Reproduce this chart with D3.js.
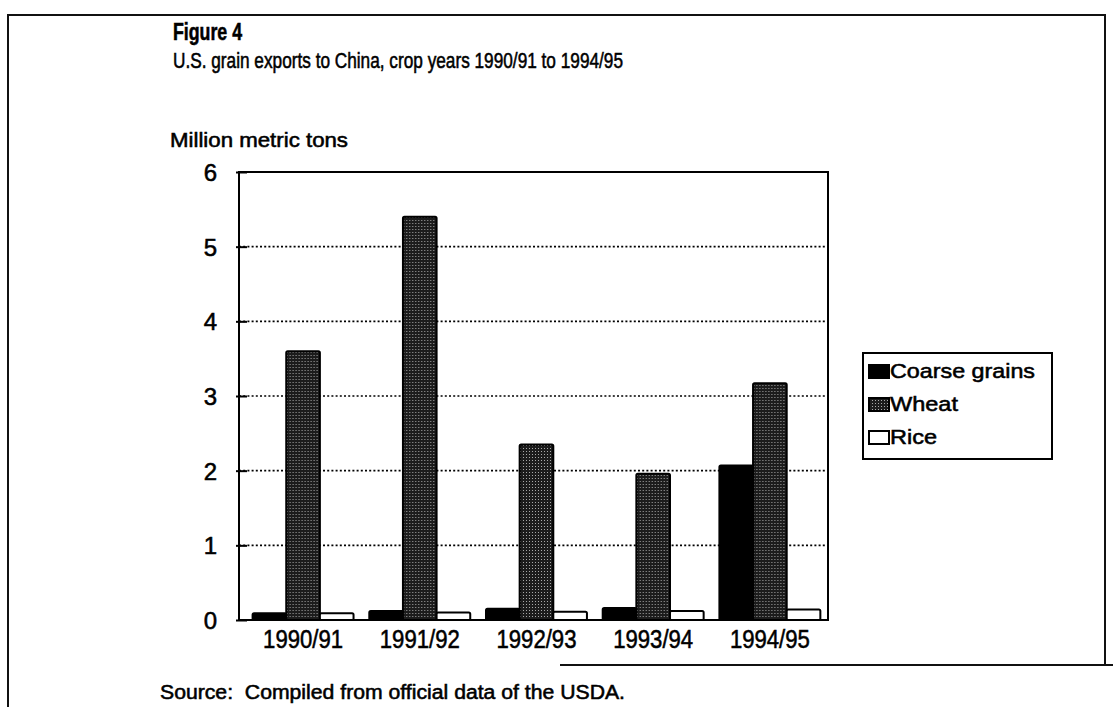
<!DOCTYPE html>
<html>
<head>
<meta charset="utf-8">
<script src="https://cdn.jsdelivr.net/npm/d3@7/dist/d3.min.js"></script>
<style>
  html, body { margin: 0; padding: 0; background: #fff; }
  svg { display: block; font-family: "Liberation Sans", Arial, sans-serif; }
  .ink { fill: #000; stroke: #000; stroke-width: 0.55px; }
</style>
</head>
<body>
<svg id="chart" width="1113" height="707"></svg>
<script>
// Crop years and grain series (million metric tons)
const years = ["1990/91", "1991/92", "1992/93", "1993/94", "1994/95"];
const seriesNames = ["Coarse grains", "Wheat", "Rice"];
const coarseGrains = [0.09, 0.12, 0.15, 0.16, 2.07];
const wheat = [3.6, 5.4, 2.35, 1.96, 3.17];
const rice = [0.09, 0.1, 0.11, 0.12, 0.14];
const yTicks = [0, 1, 2, 3, 4, 5, 6];

const seriesValues = [coarseGrains, wheat, rice];
const rows = years.map((y, i) => ({
  year: y,
  values: seriesNames.map((s, j) => ({ series: s, value: seriesValues[j][i] }))
}));

const svg = d3.select("#chart");
const defs = svg.append("defs");

// Stippled fill used for wheat
const pat = defs.append("pattern")
  .attr("id", "stipple").attr("patternUnits", "userSpaceOnUse")
  .attr("width", 3).attr("height", 3);
pat.append("rect").attr("width", 3).attr("height", 3).attr("fill", "#1c1c1c");
pat.append("rect").attr("x", 1).attr("y", 1).attr("width", 1).attr("height", 1).attr("fill", "#a8a8a8");

const fills = { "Coarse grains": "#000", "Wheat": "url(#stipple)", "Rice": "#fff" };
const legendWidths = { "Coarse grains": 145, "Wheat": 68, "Rice": 47 };

// Page frame
svg.append("path")
  .attr("d", "M8,707 L8,15 L1105,15 L1105,665 M560,665 L1113,665")
  .attr("fill", "none").attr("stroke", "#111").attr("stroke-width", 2);

// Titles
svg.append("text").attr("class", "ink").attr("x", 173).attr("y", 40)
  .attr("font-size", 23).attr("font-weight", "bold")
  .attr("textLength", 69).attr("lengthAdjust", "spacingAndGlyphs")
  .text("Figure 4");
svg.append("text").attr("class", "ink").attr("x", 173).attr("y", 68)
  .attr("font-size", 22)
  .attr("textLength", 450).attr("lengthAdjust", "spacingAndGlyphs")
  .text("U.S. grain exports to China, crop years 1990/91 to 1994/95");
svg.append("text").attr("class", "ink").attr("x", 170).attr("y", 147)
  .attr("font-size", 20)
  .attr("textLength", 178).attr("lengthAdjust", "spacingAndGlyphs")
  .text("Million metric tons");

// Scales
const plotLeft = 239, plotRight = 828, plotTop = 172, plotBottom = 620;
const y = d3.scaleLinear().domain([0, 6]).range([plotBottom, plotTop]);
const x0 = d3.scaleBand().domain(years).range([plotLeft, plotRight])
  .paddingInner(0.135).paddingOuter(0.091).align(0.64);
const x1 = d3.scaleBand().domain(seriesNames).range([0, x0.bandwidth()]);

// Dotted gridlines
svg.append("g").selectAll("line")
  .data(yTicks.filter(t => t > 0 && t < 6))
  .join("line")
  .attr("x1", plotLeft).attr("x2", plotRight)
  .attr("y1", d => y(d)).attr("y2", d => y(d))
  .attr("stroke", "#000").attr("stroke-width", 1.6)
  .attr("stroke-dasharray", "2,2.2");

// Y axis with tick labels
const yAxis = d3.axisLeft(y).tickValues(yTicks).tickSize(-8).tickPadding(22)
  .tickFormat(d3.format("d"));
const gy = svg.append("g").attr("transform", `translate(${plotLeft},0)`).call(yAxis);
gy.select(".domain").remove();
gy.selectAll(".tick line").attr("stroke", "#000").attr("stroke-width", 2)
  .attr("x1", -3);
gy.selectAll(".tick text").attr("class", "ink").attr("font-size", 24)
  .attr("font-family", "Liberation Sans, Arial, sans-serif").attr("dy", "0.36em");

// Bars
const groups = svg.append("g").selectAll("g")
  .data(rows).join("g")
  .attr("transform", d => `translate(${x0(d.year)},0)`);
groups.selectAll("rect")
  .data(d => d.values).join("rect")
  .attr("x", d => x1(d.series))
  .attr("y", d => y(d.value))
  .attr("width", x1.bandwidth())
  .attr("height", d => y(0) - y(d.value))
  .attr("rx", 1.5)
  .attr("fill", d => fills[d.series])
  .attr("stroke", "#000").attr("stroke-width", 2);

// Plot frame
svg.append("rect")
  .attr("x", plotLeft).attr("y", plotTop)
  .attr("width", plotRight - plotLeft).attr("height", plotBottom - plotTop)
  .attr("fill", "none").attr("stroke", "#000").attr("stroke-width", 2);

// X axis labels
const xAxis = d3.axisBottom(x0).tickSize(0).tickPadding(10);
const gx = svg.append("g").attr("transform", `translate(0,${plotBottom})`).call(xAxis);
gx.select(".domain").remove();
gx.selectAll(".tick text").attr("class", "ink").attr("font-size", 26)
  .attr("font-family", "Liberation Sans, Arial, sans-serif")
  .attr("textLength", 80).attr("lengthAdjust", "spacingAndGlyphs")
  .attr("y", 28).attr("dy", 0);

// Legend
const legend = svg.append("g");
legend.append("rect").attr("x", 863).attr("y", 353).attr("width", 189).attr("height", 106)
  .attr("fill", "#fff").attr("stroke", "#000").attr("stroke-width", 2);
const legendRow = d3.scaleBand().domain(seriesNames).range([360, 459]);
const items = legend.selectAll("g.item").data(seriesNames).join("g").attr("class", "item")
  .attr("transform", d => `translate(868,${legendRow(d)})`);
items.append("rect").attr("x", 1).attr("y", 5).attr("width", 20).attr("height", 13)
  .attr("fill", d => fills[d]).attr("stroke", "#000").attr("stroke-width", 2);
items.append("text").attr("class", "ink").attr("x", 22).attr("y", 18)
  .attr("font-size", 21)
  .attr("textLength", d => legendWidths[d]).attr("lengthAdjust", "spacingAndGlyphs")
  .text(d => d);

// Source note
svg.append("text").attr("class", "ink").attr("x", 160).attr("y", 699)
  .attr("font-size", 20)
  .attr("textLength", 465).attr("lengthAdjust", "spacingAndGlyphs")
  .attr("xml:space", "preserve")
  .text("Source:  Compiled from official data of the USDA.");
</script>
</body>
</html>
